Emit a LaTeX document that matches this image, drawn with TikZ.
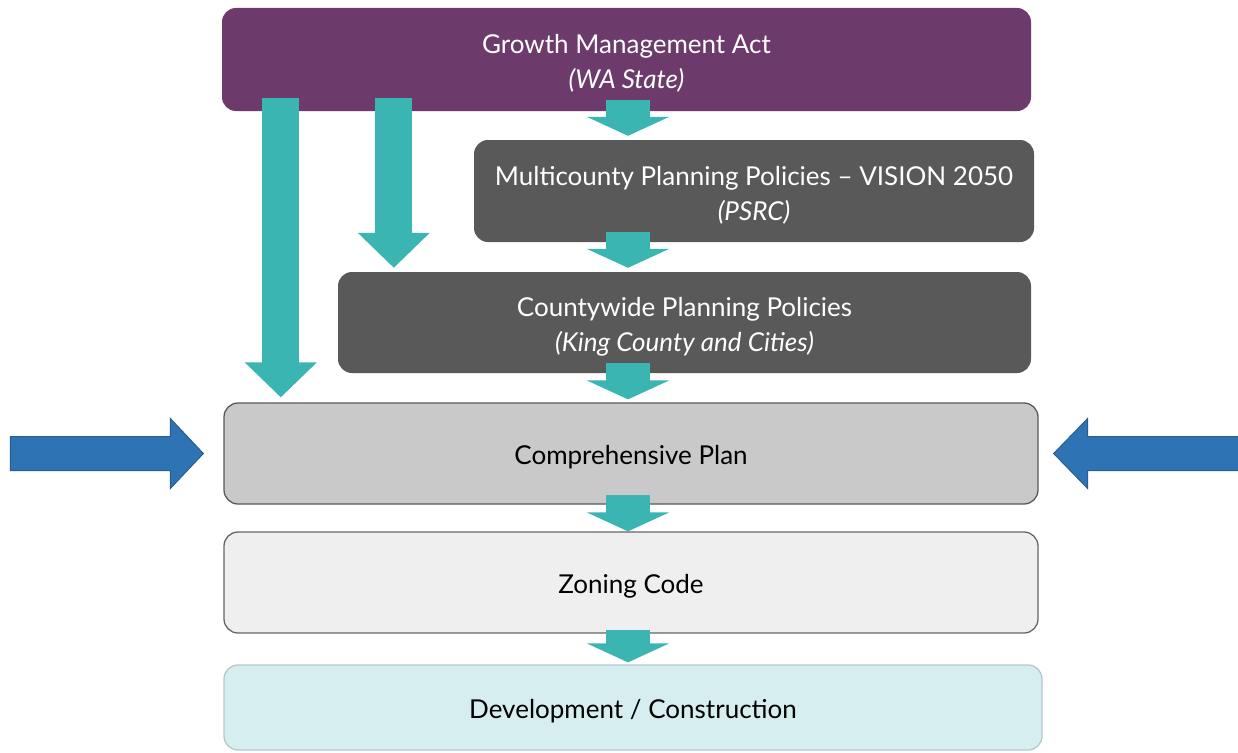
\documentclass[tikz,border=0pt]{standalone}
\usepackage{fontspec}
\setmainfont{Lato}
\usetikzlibrary{arrows.meta,calc}
\definecolor{gmapurple}{HTML}{6C3B6B}
\definecolor{policygray}{HTML}{5A5959}
\definecolor{flowteal}{HTML}{3BB5B1}
\definecolor{compfill}{HTML}{C9C9C9}
\definecolor{zonefill}{HTML}{EFEFEF}
\definecolor{devfill}{HTML}{D6EEF0}
\definecolor{devline}{HTML}{B4C8CA}
\definecolor{pointblue}{HTML}{2E74B5}
\definecolor{pointedge}{HTML}{2A5D8F}
\begin{document}
\begin{tikzpicture}[x=1pt,y=-1pt,
  level/.style={rounded corners=14pt, inner sep=0pt},
  darklevel/.style={level},
  lightlevel/.style={level, line width=1.3pt},
  caption/.style={align=center, inner sep=0pt, yshift=-4pt,
    font=\fontsize{26}{35}\selectfont},
  smallflow/.style={draw=flowteal, line width=44pt,
    -{Triangle[width=82pt,length=19pt]}},
  longflow/.style={draw=flowteal, line width=37pt,
    -{Triangle[width=70pt,length=35pt]}},
  pointer/.style={fill=pointblue, draw=pointedge, line width=1pt, line join=miter}]
\useasboundingbox (0,0) rectangle (1238,752);
\fill[white] (0,0) rectangle (1238,752);

% policy hierarchy, top to bottom
\node[darklevel, fill=gmapurple, minimum width=809pt, minimum height=103pt]
  (gma) at (626.5,59.5) {};
\node[darklevel, fill=policygray, minimum width=560pt, minimum height=102pt]
  (mpp) at (754,191) {};
\node[darklevel, fill=policygray, minimum width=693pt, minimum height=101pt]
  (cpp) at (684.5,322.5) {};
\node[lightlevel, fill=compfill, draw=black!65, minimum width=814pt, minimum height=101pt]
  (comp) at (631,453.5) {};
\node[lightlevel, fill=zonefill, draw=black!60, minimum width=814pt, minimum height=101pt]
  (zone) at (631,582.5) {};
\node[lightlevel, fill=devfill, draw=devline, minimum width=818pt, minimum height=85pt]
  (dev) at (633,707.5) {};

% spine of the step-down arrows
\coordinate (spine) at (628,0);

\draw[smallflow] ($(gma.south -| spine)+(0,-11)$) -- ($(spine |- mpp.north)+(0,-4)$);
\draw[smallflow] ($(mpp.south -| spine)+(0,-10)$) -- ($(spine |- cpp.north)+(0,-4)$);
\draw[smallflow] ($(cpp.south -| spine)+(0,-10)$) -- ($(spine |- comp.north)+(0,-3)$);
\draw[smallflow] ($(comp.south -| spine)+(0,-10)$) -- ($(spine |- zone.north)+(0,0)$);
\draw[smallflow] ($(zone.south -| spine)+(0,-4)$) -- ($(spine |- dev.north)+(0,-2)$);

% direct links from the state act
\draw[longflow] ($(gma.south west)+(59,-13)$) -- ($(gma.south west |- comp.north)+(59,-5)$);
\draw[longflow] ($(gma.south west)+(172,-13)$) -- ($(gma.south west |- cpp.north)+(172,-4)$);

% box texts
\node[caption, text=white] (gmatext) at (gma.center)
  {Growth Management Act\\\textit{(WA State)}};
\node[caption, text=white] (mpptext) at (mpp.center)
  {Multicounty Planning Policies -- VISION 2050\\\textit{(PSRC)}};
\node[caption, text=white] (cpptext) at (cpp.center)
  {Countywide Planning Policies\\\textit{(King County and Cities)}};
\node[caption] (comptext) at (comp.center) {Comprehensive Plan};
\node[caption] (zonetext) at (zone.center) {Zoning Code};
\node[caption] (devtext) at (dev.center) {Development / Construction};

% blue pointers at the comprehensive plan
\draw[pointer] ($(comp.west)+(-20,0)$) -- ++(-33,-35) -- ++(0,18) -- ++(-160,0)
  -- ++(0,34) -- ++(160,0) -- ++(0,18) -- cycle;
\draw[pointer] ($(comp.east)+(15,0)$) -- ++(34,-35) -- ++(0,18) -- ++(160,0)
  -- ++(0,34) -- ++(-160,0) -- ++(0,18) -- cycle;
\end{tikzpicture}
\end{document}
